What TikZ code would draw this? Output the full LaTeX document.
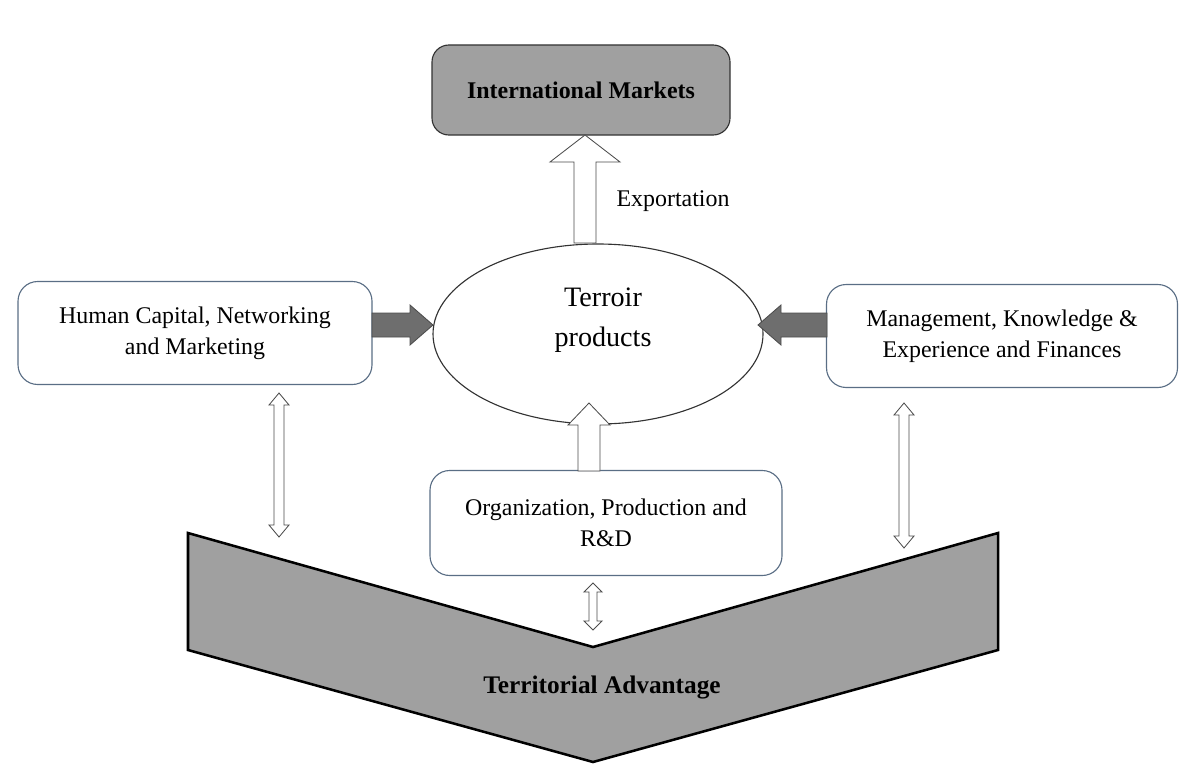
\documentclass[tikz,border=0pt]{standalone}
\usepackage{fontspec}
\setmainfont{Liberation Serif}
\usetikzlibrary{shapes.geometric}
\begin{document}
\begin{tikzpicture}[x=0.025cm,y=-0.025cm,
  box/.style={draw=boxline,rounded corners=14pt,line width=0.8pt,fill=white,align=center,font=\fontsize{17}{22}\selectfont},
  hollow/.style={draw=black!70,fill=white,line width=0.6pt},
  solid/.style={draw=black!70,fill=arrowgray,line width=0.6pt}]
\definecolor{boxline}{HTML}{5A6E85}
\definecolor{arrowgray}{HTML}{6E6E6E}
\definecolor{chev}{HTML}{A0A0A0}
\useasboundingbox (0,0) rectangle (1200,782);
% chevron
\draw[fill=chev,line width=1.8pt,line join=miter] (188,533) -- (593,647) -- (998,533) -- (998,650) -- (593,762) -- (188,650) -- cycle;
\node[font=\fontsize{18}{22}\selectfont\bfseries] (ta) at (602,688) {Territorial Advantage};
% nodes
\node[draw=black!80,fill=chev,rounded corners=12pt,line width=0.8pt,minimum width=298*0.025cm,minimum height=90*0.025cm,font=\fontsize{17}{22}\selectfont\bfseries] (im) at (581,90) {International Markets};
\node[draw=black!80,line width=0.8pt,ellipse,inner sep=0pt,minimum width=330*0.025cm,minimum height=180*0.025cm] (tpe) at (598,334) {};
\node[align=center,font=\fontsize{20}{28}\selectfont] (tp) at (603,320) {Terroir\\products};
\node[box,minimum width=354*0.025cm,minimum height=103*0.025cm] (hc) at (195,333) {Human Capital, Networking\\and Marketing};
\node[box,minimum width=351*0.025cm,minimum height=103*0.025cm] (mk) at (1002,336) {Management, Knowledge \&\\Experience and Finances};
\node[box,minimum width=352*0.025cm,minimum height=105*0.025cm] (op) at (606,523) {Organization, Production and\\R\&D};
\node[font=\fontsize{17}{22}\selectfont] (ex) at (673,201) {Exportation};
% exportation arrow
\draw[hollow] (574,243) -- (574,162) -- (550,162) -- (585,135) -- (620,162) -- (596,162) -- (596,243) -- cycle;
% up arrow from op
\draw[hollow] (578,471) -- (578,425) -- (568,425) -- (589,403) -- (610,425) -- (600,425) -- (600,471) -- cycle;
% gray arrows
\draw[solid] (372,313) -- (410,313) -- (410,305) -- (433,325) -- (410,345) -- (410,337) -- (372,337) -- cycle;
\draw[solid] (827,313) -- (781,313) -- (781,305) -- (758,325) -- (781,345) -- (781,337) -- (827,337) -- cycle;
% double arrows
\draw[hollow] (279,393) -- (289,405) -- (284,405) -- (284,525) -- (289,525) -- (279,537) -- (269,525) -- (274,525) -- (274,405) -- (269,405) -- cycle;
\draw[hollow] (904,403) -- (914,415) -- (909,415) -- (909,536) -- (914,536) -- (904,548) -- (894,536) -- (899,536) -- (899,415) -- (894,415) -- cycle;
\draw[hollow] (593,583) -- (602,592) -- (597,592) -- (597,621) -- (602,621) -- (593,630) -- (584,621) -- (589,621) -- (589,592) -- (584,592) -- cycle;
\end{tikzpicture}
\end{document}
